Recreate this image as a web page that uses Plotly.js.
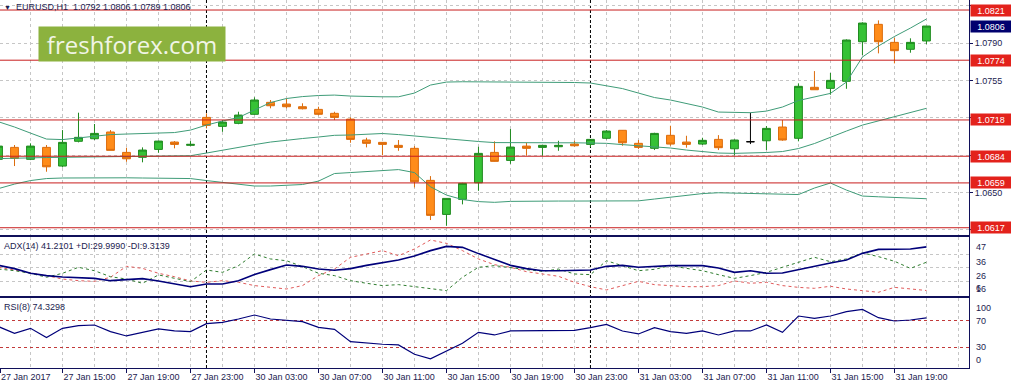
<!DOCTYPE html>
<html><head><meta charset="utf-8">
<script src="https://cdn.plot.ly/plotly-3.0.1.min.js"></script>
<style>html,body{margin:0;padding:0;background:#fff;overflow:hidden}#chart{width:1011px;height:387px}</style>
</head><body><div id="chart"></div>
<script>
// ---------- data ----------
const symbol = 'EURUSD,H1';
const barTimes = [
 '27 Jan 11:00','27 Jan 12:00','27 Jan 13:00','27 Jan 14:00','27 Jan 15:00','27 Jan 16:00','27 Jan 17:00','27 Jan 18:00','27 Jan 19:00','27 Jan 20:00','27 Jan 21:00','27 Jan 22:00','27 Jan 23:00',
 '30 Jan 00:00','30 Jan 01:00','30 Jan 02:00','30 Jan 03:00','30 Jan 04:00','30 Jan 05:00','30 Jan 06:00','30 Jan 07:00','30 Jan 08:00','30 Jan 09:00','30 Jan 10:00','30 Jan 11:00','30 Jan 12:00','30 Jan 13:00','30 Jan 14:00','30 Jan 15:00','30 Jan 16:00','30 Jan 17:00','30 Jan 18:00','30 Jan 19:00','30 Jan 20:00','30 Jan 21:00','30 Jan 22:00','30 Jan 23:00',
 '31 Jan 00:00','31 Jan 01:00','31 Jan 02:00','31 Jan 03:00','31 Jan 04:00','31 Jan 05:00','31 Jan 06:00','31 Jan 07:00','31 Jan 08:00','31 Jan 09:00','31 Jan 10:00','31 Jan 11:00','31 Jan 12:00','31 Jan 13:00','31 Jan 14:00','31 Jan 15:00','31 Jan 16:00','31 Jan 17:00','31 Jan 18:00','31 Jan 19:00','31 Jan 20:00','31 Jan 21:00'
];
const openP = [1.06811,1.06923,1.06811,1.06923,1.06748,1.06980,1.07004,1.07067,1.06876,1.06830,1.06904,1.06973,1.06942,
 1.07204,1.07120,1.07148,1.07233,1.07345,1.07329,1.07304,1.07279,1.07242,1.07188,1.06992,1.06970,1.06942,1.06914,1.06614,1.06295,1.06436,1.06591,1.06876,1.06801,1.06935,1.06923,1.06929,1.06954,
 1.06951,1.07008,1.07083,1.06961,1.06914,1.07036,1.06973,1.06954,1.06998,1.06910,1.06976,1.06985,1.07114,1.07008,1.07486,1.07476,1.07542,1.07913,1.08076,1.07907,1.07842,1.07920];
const highP = [1.06964,1.06945,1.06961,1.06945,1.07085,1.07248,1.07142,1.07085,1.06920,1.06923,1.06985,1.06982,1.06982,
 1.07242,1.07179,1.07257,1.07392,1.07367,1.07379,1.07336,1.07304,1.07257,1.07204,1.07013,1.06973,1.06992,1.06935,1.06654,1.06445,1.06591,1.06929,1.06980,1.07095,1.06966,1.06944,1.06985,1.06985,
 1.07000,1.07085,1.07085,1.06992,1.07060,1.07126,1.07032,1.07013,1.07038,1.06998,1.07248,1.07123,1.07179,1.07523,1.07638,1.07620,1.07935,1.08095,1.08113,1.07950,1.07945,1.08060];
const lowP = [1.06785,1.06748,1.06804,1.06695,1.06736,1.06970,1.06992,1.06895,1.06788,1.06783,1.06873,1.06914,1.06935,
 1.07101,1.07069,1.07140,1.07230,1.07289,1.07289,1.07279,1.07223,1.07179,1.06966,1.06923,1.06851,1.06891,1.06548,1.06242,1.06188,1.06389,1.06516,1.06790,1.06769,1.06845,1.06845,1.06891,1.06929,
 1.06926,1.06998,1.06938,1.06907,1.06898,1.06938,1.06920,1.06945,1.06898,1.06848,1.06954,1.06898,1.06985,1.06980,1.07463,1.07416,1.07472,1.07788,1.07804,1.07710,1.07810,1.07890];
const closeP = [1.06935,1.06820,1.06935,1.06741,1.06970,1.07017,1.07054,1.06895,1.06816,1.06898,1.06982,1.06951,1.06951,
 1.07129,1.07160,1.07226,1.07367,1.07313,1.07304,1.07285,1.07233,1.07204,1.06998,1.06961,1.06951,1.06923,1.06601,1.06286,1.06445,1.06586,1.06867,1.06792,1.06926,1.06914,1.06942,1.06942,1.06938,
 1.06998,1.07076,1.06966,1.06923,1.07054,1.06954,1.06951,1.06989,1.06920,1.06992,1.06976,1.07101,1.06992,1.07495,1.07463,1.07551,1.07929,1.08088,1.07913,1.07829,1.07907,1.08060];
const bbUpper = [1.07163,1.07114,1.07057,1.07001,1.06996,1.07010,1.07029,1.07043,1.07048,1.07053,1.07057,1.07062,1.07085,
 1.07132,1.07170,1.07203,1.07273,1.07343,1.07381,1.07399,1.07409,1.07413,1.07404,1.07397,1.07397,1.07397,1.07432,1.07507,1.07535,1.07538,1.07538,1.07535,1.07535,1.07535,1.07535,1.07532,1.07531,
 1.07526,1.07498,1.07474,1.07432,1.07390,1.07367,1.07334,1.07301,1.07254,1.07249,1.07248,1.07263,1.07301,1.07362,1.07395,1.07429,1.07535,1.07770,1.07873,1.07962,1.08041,1.08126];
const bbMiddle = [1.06818,1.06823,1.06826,1.06828,1.06830,1.06832,1.06835,1.06837,1.06839,1.06840,1.06842,1.06844,1.06845,
 1.06870,1.06898,1.06926,1.06949,1.06973,1.06992,1.07006,1.07020,1.07036,1.07039,1.07043,1.07053,1.07043,1.07029,1.07015,1.07004,1.06992,1.06978,1.06968,1.06966,1.06966,1.06966,1.06966,1.06966,
 1.06965,1.06961,1.06949,1.06940,1.06929,1.06917,1.06898,1.06884,1.06870,1.06867,1.06870,1.06875,1.06884,1.06912,1.06959,1.07020,1.07076,1.07132,1.07170,1.07207,1.07249,1.07289];
const bbLower = [1.06537,1.06579,1.06612,1.06631,1.06636,1.06638,1.06640,1.06640,1.06638,1.06636,1.06636,1.06634,1.06631,
 1.06612,1.06593,1.06575,1.06561,1.06561,1.06565,1.06575,1.06607,1.06678,1.06687,1.06696,1.06711,1.06715,1.06687,1.06554,1.06476,1.06434,1.06415,1.06408,1.06417,1.06420,1.06420,1.06420,1.06420,
 1.06420,1.06420,1.06420,1.06422,1.06439,1.06457,1.06476,1.06490,1.06498,1.06495,1.06493,1.06492,1.06486,1.06481,1.06542,1.06589,1.06523,1.06467,1.06460,1.06455,1.06448,1.06442];
const adx = [27.7,25.3,21.9,20.2,19.2,18.7,18.2,16.5,17.2,18.0,16.3,14.1,12.1,
 14.1,14.1,16.5,21.1,24.6,28.0,27.0,25.0,24.1,25.3,27.7,29.9,31.6,34.6,38.5,41.6,40.9,36.3,31.9,27.7,25.3,23.8,23.8,23.8,
 24.3,27.0,27.7,26.3,27.0,27.5,27.5,27.5,25.8,22.6,23.8,21.9,22.1,24.6,27.2,29.4,31.6,36.5,39.4,39.4,39.7,41.2101];
const plusDI = [25.0,23.8,21.9,19.0,21.9,26.3,23.8,19.4,17.7,14.6,20.7,18.2,15.8,
 24.3,22.6,27.5,36.0,32.4,31.1,26.8,21.9,20.2,16.5,14.6,12.9,13.6,12.1,10.4,9.2,19.0,26.3,27.5,26.3,24.6,23.3,25.0,21.4,
 20.9,31.1,27.5,23.8,24.8,27.5,25.5,23.8,20.9,18.2,20.2,22.6,26.3,29.9,33.6,30.4,32.4,36.8,34.1,30.7,25.5,29.9990];
const minusDI = [26.3,24.3,21.9,20.2,17.7,16.5,16.0,19.0,27.0,25.5,21.9,19.4,16.3,
 15.3,16.5,15.3,12.9,11.6,10.4,12.9,20.2,25.0,33.6,36.0,38.5,34.8,39.7,46.3,43.8,38.5,32.4,28.2,26.3,23.1,21.4,19.7,15.3,
 12.1,9.7,12.9,16.0,13.6,12.9,12.1,12.1,12.9,16.3,14.6,15.3,12.9,11.6,10.9,12.4,10.4,9.2,8.0,11.6,10.4,9.3139];
const rsi = [61.0,51.0,58.5,44.5,58.5,62.5,63.5,53.5,47.0,52.5,57.5,54.5,53.5,
 65.5,67.5,72.5,78.5,72.5,71.0,68.5,60.0,57.0,38.5,36.0,34.5,33.5,19.5,12.5,24.5,36.0,52.5,48.5,54.5,54.5,55.5,55.5,55.5,
 59.5,64.5,54.5,50.0,59.5,53.5,51.0,54.5,48.5,54.5,54.5,63.5,52.5,77.0,73.5,77.0,83.5,87.0,74.5,69.5,71.0,74.3298];
const levels = [1.0821, 1.0774, 1.0718, 1.0684, 1.0659, 1.0617];
const priceTicks = [1.0615, 1.0650, 1.0685, 1.0720, 1.0755, 1.0790, 1.0825];
const priceTickShown = ['', '1.0650', '', '', '1.0755', '1.0790', ''];
const adxLevels = [36, 26, 16];
const adxLabels = ['47', '36', '26', '16', '6'];
const rsiLevels = [30, 70];
const xLabels = ['27 Jan 2017','27 Jan 15:00','27 Jan 19:00','27 Jan 23:00','30 Jan 03:00','30 Jan 07:00','30 Jan 11:00',
 '30 Jan 15:00','30 Jan 19:00','30 Jan 23:00','31 Jan 03:00','31 Jan 07:00','31 Jan 11:00','31 Jan 15:00','31 Jan 19:00'];

// ---------- build ----------
const FONT = 'Liberation Sans, Arial, sans-serif';
const TXT = '#1c1c50';
const FRAME = '#10105a';
const GRID = '#c6c6c6';
const N = barTimes.length;
const idx = barTimes.map((_, i) => i);
const xRange = [0.094, 60.66];
const last = N - 1;

const moving = idx.filter(i => openP[i] !== closeP[i]);
const flat = idx.filter(i => openP[i] === closeP[i]);
const pick = (arr, ids) => ids.map(i => arr[i]);

const xTickVals = xLabels.map((t, k) => k === 0 ? xRange[0] : barTimes.indexOf(t));
const separators = idx.filter(i => barTimes[i].endsWith('00:00'));

const traces = [
  {type:'scatter', mode:'lines', x: idx, y: bbUpper, xaxis:'x3', yaxis:'y3', line:{color:'#3f9c78', width:1}, hoverinfo:'skip'},
  {type:'scatter', mode:'lines', x: idx, y: bbMiddle, xaxis:'x3', yaxis:'y3', line:{color:'#3f9c78', width:1}, hoverinfo:'skip'},
  {type:'scatter', mode:'lines', x: idx, y: bbLower, xaxis:'x3', yaxis:'y3', line:{color:'#3f9c78', width:1}, hoverinfo:'skip'},
  {type:'candlestick', x: moving, open: pick(openP, moving), high: pick(highP, moving), low: pick(lowP, moving), close: pick(closeP, moving),
   xaxis:'x3', yaxis:'y3', whiskerwidth:0,
   increasing:{fillcolor:'#36c236', line:{color:'#1f8a1f', width:1}},
   decreasing:{fillcolor:'#ff8c1a', line:{color:'#dc6c0c', width:1}}, hoverinfo:'skip'},
  {type:'candlestick', x: flat, open: pick(openP, flat), high: pick(highP, flat), low: pick(lowP, flat), close: pick(closeP, flat),
   xaxis:'x3', yaxis:'y3', whiskerwidth:0,
   increasing:{fillcolor:'#000', line:{color:'#000', width:1}},
   decreasing:{fillcolor:'#000', line:{color:'#000', width:1}}, hoverinfo:'skip'},
  {type:'scatter', mode:'lines', x: idx, y: minusDI, xaxis:'x2', yaxis:'y2', line:{color:'#e05a5a', width:1, dash:'3px,3px'}, hoverinfo:'skip'},
  {type:'scatter', mode:'lines', x: idx, y: plusDI, xaxis:'x2', yaxis:'y2', line:{color:'#2f7d2f', width:1, dash:'3px,3px'}, hoverinfo:'skip'},
  {type:'scatter', mode:'lines', x: idx, y: adx, xaxis:'x2', yaxis:'y2', line:{color:'#00007a', width:1.6}, hoverinfo:'skip'},
  {type:'scatter', mode:'lines', x: idx, y: rsi, xaxis:'x', yaxis:'y', line:{color:'#00007a', width:1.2}, hoverinfo:'skip'}
];

const xBase = {
  range: xRange, type:'linear', fixedrange:true, zeroline:false,
  tickmode:'array', tickvals: xTickVals.slice(1), showgrid:true, gridcolor: GRID, griddash:'3px,3px', gridwidth:1,
  minor:{tick0:0, dtick:2, showgrid:true, gridcolor: GRID, griddash:'3px,3px', gridwidth:1, ticks:''},
  showline:true, linecolor: FRAME, linewidth:1
};

const layout = {
  width:1011, height:387, paper_bgcolor:'#fff', plot_bgcolor:'#fff', showlegend:false,
  margin:{l:0, r:42, t:0, b:19},
  font:{family: FONT, size:9, color: TXT},
  xaxis: Object.assign({}, xBase, {anchor:'y', mirror:true, tickvals: xTickVals, ticktext: xLabels,
    showticklabels:true, ticks:'outside', ticklen:4, tickcolor: FRAME, ticklabelposition:'outside right',
    tickfont:{family: FONT, size:9, color: TXT}}),
  xaxis2: Object.assign({}, xBase, {anchor:'y2', matches:'x', mirror:true, showticklabels:false, ticks:''}),
  xaxis3: Object.assign({}, xBase, {anchor:'y3', matches:'x', mirror:false, showticklabels:false, ticks:'', rangeslider:{visible:false}}),
  yaxis: {domain:[0, 0.19022], range:[-1.2, 104.1], anchor:'x', side:'right', fixedrange:true, zeroline:false,
    tickmode:'array', tickvals: rsiLevels, showticklabels:false, ticks:'',
    showgrid:true, gridcolor:'#c23a3a', griddash:'3px,3px', gridwidth:1, showline:true, linecolor: FRAME},
  yaxis2: {domain:[0.19647, 0.35462], range:[5.5, 48.1], anchor:'x2', side:'right', fixedrange:true, zeroline:false,
    tickmode:'array', tickvals: adxLevels, showticklabels:false, ticks:'',
    showgrid:true, gridcolor: GRID, griddash:'3px,3px', gridwidth:1, showline:true, linecolor: FRAME},
  yaxis3: {domain:[0.36141, 1], range:[1.06102, 1.08304], anchor:'x3', side:'right', fixedrange:true, zeroline:false,
    tickmode:'array', tickvals: priceTicks, ticktext: priceTickShown, ticks:'outside', ticklen:3, tickcolor: FRAME,
    tickfont:{family: FONT, size:9, color: TXT},
    showgrid:true, gridcolor: GRID, griddash:'3px,3px', gridwidth:1, showline:true, linecolor: FRAME},
  shapes: [], annotations: []
};

// support / resistance lines and their labels
levels.forEach(v => {
  layout.shapes.push({type:'line', xref:'paper', x0:0, x1:1, yref:'y3', y0:v, y1:v, layer:'above', line:{color:'#c81e1e', width:1}});
  layout.annotations.push({xref:'paper', x:1, xanchor:'left', xshift:1, yref:'y3', y:v, yanchor:'middle', showarrow:false,
    text: v.toFixed(4), bgcolor:'#e3221c', width:40, height:11, borderpad:0, align:'center',
    font:{family: FONT, size:9, color:'#ffffff'}});
});
// current price label
layout.annotations.push({xref:'paper', x:1, xanchor:'left', xshift:1, yref:'y3', y: closeP[last], yanchor:'middle', showarrow:false,
  text: closeP[last].toFixed(4), bgcolor:'#00006e', width:40, height:11, borderpad:0, align:'center',
  font:{family: FONT, size:9, color:'#ffffff'}});

// day separators
separators.forEach(i => layout.shapes.push({type:'line', xref:'x3', x0:i, x1:i, yref:'paper', y0:0, y1:1, layer:'below',
  line:{color:'#000', width:1, dash:'3px,2px'}}));

// ADX scale labels (drawn below their levels, like the terminal)
const adxLabelVals = adxLabels.map(Number);
adxLabelVals.forEach((v, k) => {
  const isBottom = k === adxLabelVals.length - 1;
  layout.annotations.push({xref:'paper', x:1, xanchor:'left', xshift:5, yref:'y2', y: isBottom ? 5.5 : v,
    yanchor: isBottom ? 'bottom' : 'top', yshift: isBottom ? 1 : -1, showarrow:false, text: adxLabels[k],
    font:{family: FONT, size:9, color: TXT}});
});
// RSI scale labels
[[100,'top'],[70,'middle'],[30,'middle'],[0,'bottom']].forEach(([v, a]) => {
  layout.annotations.push({xref:'paper', x:1, xanchor:'left', xshift:5, yref:'y', y: v, yanchor: a, showarrow:false,
    text: String(v), font:{family: FONT, size:9, color: TXT}});
});

// header + indicator captions
layout.annotations.push({xref:'paper', yref:'paper', x:0, y:0.981, xanchor:'left', yanchor:'middle', xshift:2, showarrow:false,
  text: '<span style="font-size:7px">▼</span>  ' + symbol + '  ' + [openP[last], highP[last], lowP[last], closeP[last]].map(v => v.toFixed(4)).join(' '),
  font:{family: FONT, size:9, color: TXT}});
layout.annotations.push({xref:'paper', yref:'paper', x:0, y:0.3315, xanchor:'left', yanchor:'middle', xshift:2, showarrow:false,
  text: 'ADX(14) ' + adx[last].toFixed(4) + ' +DI:' + plusDI[last].toFixed(4) + ' -DI:' + minusDI[last].toFixed(4),
  font:{family: FONT, size:9, color: TXT}});
layout.annotations.push({xref:'paper', yref:'paper', x:0, y:0.1658, xanchor:'left', yanchor:'middle', xshift:2, showarrow:false,
  text: 'RSI(8) ' + rsi[last].toFixed(4), font:{family: FONT, size:9, color: TXT}});

// watermark
layout.annotations.push({xref:'paper', yref:'paper', x:132/969, y:(368-44)/368, xanchor:'center', yanchor:'middle', showarrow:false,
  text:'freshforex.com', bgcolor:'#8cb23e', width:186, height:34, borderpad:0,
  font:{family:'Open Sans, sans-serif', size:24, color:'#f1f5e6'}});

Plotly.newPlot('chart', traces, layout, {staticPlot:true, displayModeBar:false});
</script>
</body></html>
